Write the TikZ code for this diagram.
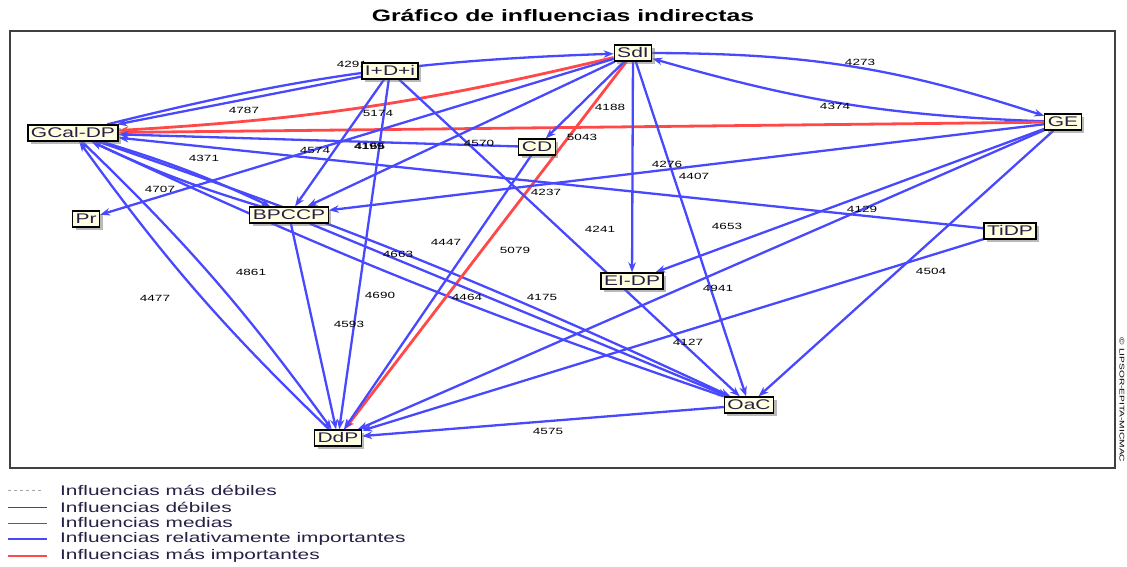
\documentclass[tikz,border=0pt]{standalone}
\usepackage{fontspec}
\setmainfont{Liberation Sans}[FakeStretch=1.5]
\usetikzlibrary{arrows.meta,shadows,backgrounds}
\definecolor{boxfill}{RGB}{255,255,225}
\definecolor{infblue}{RGB}{72,72,255}
\definecolor{infred}{RGB}{255,72,72}
\definecolor{inktext}{RGB}{40,30,70}

\begin{document}
\begin{tikzpicture}
        [x=1pt, y=-1pt,
        factor/.style={draw=black, line width=1.3pt, fill=boxfill, text=inktext,
          inner xsep=3pt, inner ysep=2.5pt, text height=10pt, text depth=1pt,
          font=\fontsize{14}{14}\selectfont,
          drop shadow={shadow xshift=3pt, shadow yshift=-3pt, fill=black!55}},
        weight/.style={inner sep=0pt, font=\fontsize{9}{9}\selectfont},
        rel_important/.style={infblue, line width=2.3pt, -{Stealth[length=10pt, width=7.5pt]}},
        most_important/.style={infred, line width=2.8pt, -{Stealth[length=10pt, width=7.5pt]}},
        legtext/.style={anchor=west, inner sep=0pt, text=inktext, font=\fontsize{13.9}{13.9}\selectfont}]

        \useasboundingbox (0,0) rectangle (1127,567);

        \node[font=\bfseries\fontsize{16.5}{16.5}\selectfont] (title) at (563,16) {Gráfico de influencias indirectas};

        \node[factor] (Sdl) at (633,53) {SdI};
        \node[factor] (IDi) at (390,71) {I+D+i};
        \node[factor] (GCal) at (73,133) {GCal-DP};
        \node[factor] (CD) at (537,147) {CD};
        \node[factor] (GE) at (1063,122) {GE};
        \node[factor] (Pr) at (86,219) {Pr};
        \node[factor] (BPCCP) at (289,215) {BPCCP};
        \node[factor] (TiDP) at (1010,231) {TiDP};
        \node[factor] (ElDP) at (632,281) {EI-DP};
        \node[factor] (OaC) at (749,405) {OaC};
        \node[factor] (DdP) at (338,438) {DdP};

        \node[rotate=-90, inner sep=0pt, font=\fontsize{6.8}{6.8}\selectfont] (copy) at (1122,400) {© LIPSOR-EPITA-MICMAC};

        \begin{pgfonlayer}{background}
        \draw[black!75, line width=1.5pt] (10,31) rectangle (1115,468);

        % pairs of opposite influences (curved)
        \draw[rel_important] (GCal) to[bend left=6] (Sdl);
        \draw[most_important] (Sdl) to[bend left=5] (GCal);
        \draw[rel_important] (Sdl) to[bend left=9] (GE);
        \draw[rel_important] (GE) to[bend left=7] (Sdl);
        \draw[rel_important] (DdP) to[bend left=5] (GCal);
        \draw[rel_important] (GCal) to[bend left=5] (DdP);
        \draw[rel_important] (GCal) to[bend left=4] (BPCCP);
        \draw[rel_important] (BPCCP) to[bend left=4] (GCal);
        \draw[rel_important] (GCal) to[bend left=3] (OaC);
        \draw[rel_important] (OaC) to[bend left=3] (GCal);

        % most important influences
        \draw[most_important] (GE) -- (GCal);
        \draw[most_important] (Sdl) -- (DdP);

        % relatively important influences
        \draw[rel_important] (IDi) -- (GCal);
        \draw[rel_important] (CD) -- (GCal);
        \draw[rel_important] (TiDP) -- (GCal);
        \draw[rel_important] (Sdl) -- (Pr);
        \draw[rel_important] (Sdl) -- (BPCCP);
        \draw[rel_important] (Sdl) -- (CD);
        \draw[rel_important] (Sdl) -- (ElDP);
        \draw[rel_important] (Sdl) -- (OaC);
        \draw[rel_important] (IDi) -- (BPCCP);
        \draw[rel_important] (IDi) -- (DdP);
        \draw[rel_important] (IDi) -- (OaC);
        \draw[rel_important] (GE) -- (BPCCP);
        \draw[rel_important] (GE) -- (ElDP);
        \draw[rel_important] (GE) -- (DdP);
        \draw[rel_important] (GE) -- (OaC);
        \draw[rel_important] (TiDP) -- (DdP);
        \draw[rel_important] (BPCCP) -- (DdP);
        \draw[rel_important] (BPCCP) -- (OaC);
        \draw[rel_important] (CD) -- (DdP);
        \draw[rel_important] (OaC) -- (DdP);

        % weights
        \node[weight] (w4291) at (352,64) {4291};
        \node[weight] (w4787) at (244,110) {4787};
        \node[weight] (w5174) at (378,113) {5174};
        \node[weight] (w4574) at (315,150) {4574};
        \node[weight] (w4199) at (369,146) {4199};
        \node[weight] (w4165) at (370,146) {4165};
        \node[weight] (w4570) at (479,143) {4570};
        \node[weight] (w4371) at (204,158) {4371};
        \node[weight] (w4707) at (160,189) {4707};
        \node[weight] (w4188) at (610,107) {4188};
        \node[weight] (w5043) at (582,137) {5043};
        \node[weight] (w4273) at (860,62) {4273};
        \node[weight] (w4374) at (835,106) {4374};
        \node[weight] (w4276) at (667,164) {4276};
        \node[weight] (w4407) at (694,176) {4407};
        \node[weight] (w4237) at (546,192) {4237};
        \node[weight] (w4129) at (862,209) {4129};
        \node[weight] (w4653) at (727,226) {4653};
        \node[weight] (w4241) at (600,229) {4241};
        \node[weight] (w4447) at (446,242) {4447};
        \node[weight] (w5079) at (515,250) {5079};
        \node[weight] (w4663) at (398,254) {4663};
        \node[weight] (w4861) at (251,272) {4861};
        \node[weight] (w4477) at (155,298) {4477};
        \node[weight] (w4690) at (380,295) {4690};
        \node[weight] (w4464) at (467,297) {4464};
        \node[weight] (w4175) at (542,297) {4175};
        \node[weight] (w4593) at (349,324) {4593};
        \node[weight] (w4941) at (718,288) {4941};
        \node[weight] (w4504) at (931,271) {4504};
        \node[weight] (w4127) at (688,342) {4127};
        \node[weight] (w4575) at (548,431) {4575};
        \end{pgfonlayer}

        % legend
        \draw[black!35, line width=0.8pt, dash pattern=on 3pt off 3pt] (8,490) -- (42,490);
        \draw[black!70, line width=1pt] (8,507) -- (47,507);
        \draw[infblue, line width=1pt] (8,523) -- (47,523);
        \draw[infblue, line width=2.4pt] (8,539) -- (47,539);
        \draw[infred, line width=2.6pt] (8,556) -- (47,556);
        \node[legtext] (leg1) at (60,490) {Influencias más débiles};
        \node[legtext] (leg2) at (60,507) {Influencias débiles};
        \node[legtext] (leg3) at (60,523) {Influencias medias};
        \node[legtext] (leg4) at (60,539) {Influencias relativamente importantes};
        \node[legtext] (leg5) at (60,556) {Influencias más importantes};

    \end{tikzpicture}
\end{document}
